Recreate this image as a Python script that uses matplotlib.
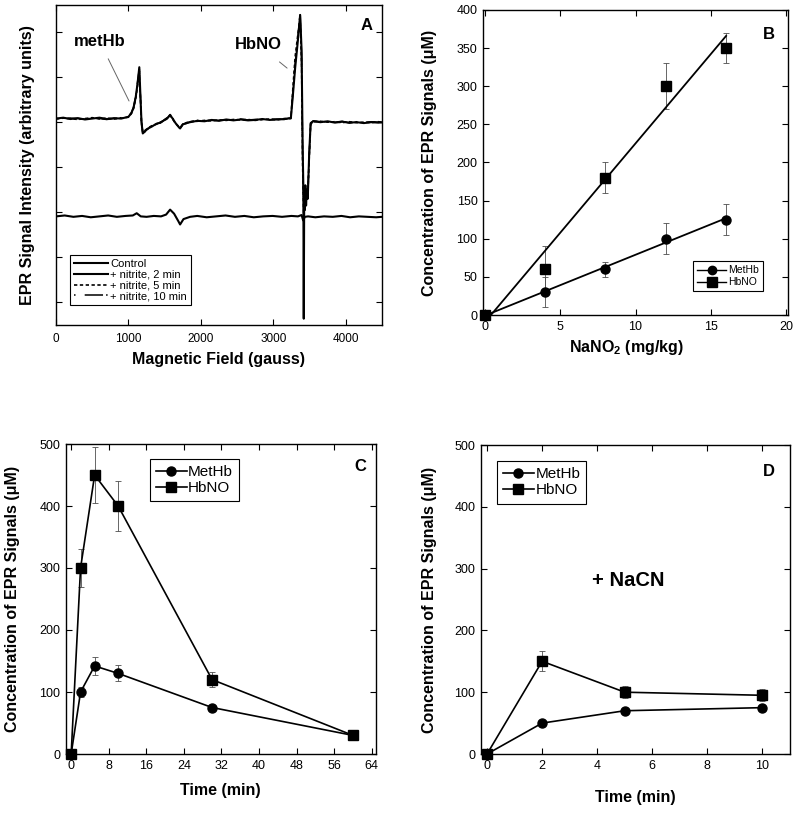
import numpy as np
import matplotlib
matplotlib.use("Agg")
import matplotlib.pyplot as plt
from matplotlib.lines import Line2D

plt.rcParams['font.family'] = ['Liberation Sans', 'DejaVu Sans']
plt.rcParams['mathtext.fontset'] = 'custom'
plt.rcParams['mathtext.rm'] = 'Liberation Sans:bold'
plt.rcParams['mathtext.bf'] = 'Liberation Sans:bold'

# ---- panel A: EPR spectra (field in gauss, intensity arbitrary) ----
field = [0, 100, 200, 300, 400, 500, 600, 700, 800, 900,
         1000, 1040, 1070, 1100, 1125, 1150, 1165, 1180, 1198, 1230,
         1270, 1320, 1380, 1440, 1500, 1545, 1575, 1610, 1650, 1690,
         1713, 1750, 1800, 1851, 1950, 2050, 2150, 2250, 2350, 2450,
         2550, 2650, 2750, 2850, 2950, 3050, 3150, 3242, 3270, 3301,
         3335, 3370, 3390, 3405, 3414, 3420, 3426, 3434, 3442, 3452,
         3462, 3475, 3495, 3515, 3550, 3650, 3750, 3850, 3950, 4050,
         4150, 4250, 4350, 4450, 4500]

nitrite_2min = [4.08, 4.10, 4.07, 4.09, 4.06, 4.08, 4.10, 4.07, 4.09, 4.08,
                4.12, 4.20, 4.32, 4.55, 4.85, 5.22, 4.60, 4.00, 3.75, 3.80,
                3.86, 3.90, 3.96, 3.99, 4.05, 4.10, 4.16, 4.08, 3.98, 3.90,
                3.86, 3.95, 3.98, 4.00, 4.03, 4.02, 4.05, 4.03, 4.06, 4.04,
                4.06, 4.04, 4.05, 4.07, 4.05, 4.06, 4.07, 4.09, 4.60, 5.20,
                5.75, 6.38, 5.60, 3.40, 2.60, -0.36, 2.30, 2.05, 2.60, 2.15,
                2.50, 2.30, 3.30, 3.98, 4.02, 4.00, 4.02, 3.99, 4.01, 3.99,
                4.00, 3.98, 4.00, 3.99, 4.00]

nitrite_5min = [4.07, 4.09, 4.08, 4.06, 4.08, 4.10, 4.07, 4.09, 4.07, 4.09,
                4.11, 4.19, 4.30, 4.52, 4.80, 5.15, 4.55, 3.98, 3.77, 3.82,
                3.87, 3.92, 3.95, 4.00, 4.04, 4.09, 4.15, 4.07, 3.97, 3.91,
                3.88, 3.94, 3.99, 4.01, 4.02, 4.04, 4.03, 4.05, 4.04, 4.06,
                4.05, 4.06, 4.04, 4.06, 4.07, 4.05, 4.08, 4.08, 4.75, 5.45,
                5.90, 6.28, 5.30, 3.00, 2.25, 1.95, 2.05, 2.20, 2.40, 2.25,
                2.45, 2.35, 3.20, 3.95, 4.01, 4.02, 4.00, 4.01, 3.99, 4.01,
                3.99, 4.00, 3.99, 4.01, 4.00]

nitrite_10min = [4.09, 4.07, 4.09, 4.08, 4.07, 4.09, 4.08, 4.06, 4.08, 4.10,
                 4.13, 4.21, 4.33, 4.57, 4.88, 5.18, 4.58, 4.02, 3.76, 3.79,
                 3.85, 3.91, 3.97, 3.98, 4.06, 4.11, 4.17, 4.09, 3.99, 3.89,
                 3.87, 3.96, 3.97, 4.01, 4.04, 4.03, 4.04, 4.04, 4.05, 4.05,
                 4.07, 4.05, 4.06, 4.06, 4.06, 4.07, 4.06, 4.10, 4.65, 5.30,
                 5.80, 6.45, 5.45, 3.20, 2.40, 2.10, 2.20, 2.10, 2.50, 2.20,
                 2.55, 2.40, 3.25, 3.97, 4.03, 4.01, 4.01, 4.00, 4.02, 3.98,
                 4.01, 3.99, 4.01, 4.00, 3.99]

control_field = [0, 120, 240, 360, 480, 600, 720, 840, 960,
                 1060, 1114, 1170, 1250, 1350, 1450, 1520, 1575, 1630, 1690, 1713, 1760, 1851,
                 1950, 2080, 2210, 2340, 2470, 2600, 2730, 2860, 2990, 3120, 3250,
                 3340, 3390, 3412, 3435, 3480,
                 3580, 3700, 3820, 3940, 4060, 4180, 4300, 4420, 4500]
control = [1.91, 1.93, 1.90, 1.92, 1.89, 1.91, 1.93, 1.90, 1.92,
           1.93, 1.98, 1.91, 1.90, 1.92, 1.91, 1.95, 2.06, 1.97, 1.80, 1.73, 1.85, 1.90,
           1.92, 1.89, 1.91, 1.93, 1.90, 1.92, 1.89, 1.91, 1.92, 1.90, 1.92,
           1.91, 1.94, 1.82, 1.90, 1.91,
           1.89, 1.91, 1.90, 1.92, 1.89, 1.91, 1.90, 1.89, 1.90]

# ---- panel B: dose response ----
dose = [0, 4, 8, 12, 16]
dose_methb = [0, 30, 60, 100, 125]
dose_methb_err = [0, 20, 10, 20, 20]
dose_hbno = [0, 60, 180, 300, 350]
dose_hbno_err = [0, 30, 20, 30, 20]

# ---- panel C: time course ----
time_c = [0, 2, 5, 10, 30, 60]
time_c_methb = [0, 100, 142, 130, 75, 30]
time_c_methb_err = [0, 8, 15, 13, 4, 3]
time_c_hbno = [0, 300, 450, 400, 120, 30]
time_c_hbno_err = [0, 30, 45, 40, 12, 3]

# ---- panel D: time course + NaCN ----
time_d = [0, 2, 5, 10]
time_d_methb = [0, 50, 70, 75]
time_d_methb_err = [0, 3, 3, 3]
time_d_hbno = [0, 150, 100, 95]
time_d_hbno_err = [0, 16, 10, 10]


fig = plt.figure(figsize=(8, 8.13), dpi=100)
W, H = 800.0, 813.0


def px_axes(left, right, top, bottom):
    return fig.add_axes([left / W, 1 - bottom / H, (right - left) / W, (bottom - top) / H])


def style(ax, size):
    ax.tick_params(direction='in', top=True, right=True, length=4, width=0.8,
                   labelsize=size, pad=4)
    for s in ax.spines.values():
        s.set_linewidth(1.0)


lab = dict(fontsize=11.5, fontweight='bold')
cm = dict(marker='o', ms=6.5, color='k', mfc='k', mec='k')
sq = dict(marker='s', ms=7.5, color='k', mfc='k', mec='k')
eb = dict(fmt='none', ecolor='0.3', elinewidth=0.6, capsize=2.5, capthick=0.6, zorder=2)

# ---------------- A ----------------
axA = px_axes(56, 382, 5, 325)
axA.plot(control_field, control, color='k', lw=1.5, label='Control')
axA.plot(field, nitrite_2min, color='k', lw=1.5, label='+ nitrite, 2 min')
axA.plot(field, nitrite_5min, color='k', lw=1.2, dashes=(2, 1.5), label='+ nitrite, 5 min')
axA.plot(field, nitrite_10min, color='k', lw=1.1, dashes=(1, 6, 12, 2), label='+ nitrite, 10 min')
axA.set_xlim(0, 4500)
axA.set_ylim(-0.5, 6.6)
axA.set_xticks([0, 1000, 2000, 3000, 4000])
axA.set_yticks(range(7))
axA.set_yticklabels([])
style(axA, 8.5)
axA.tick_params(axis='x', pad=6)
axA.set_xlabel('Magnetic Field (gauss)', **lab)
axA.xaxis.set_label_coords(0.5, -0.085)
axA.set_ylabel('EPR Signal Intensity (arbitrary units)', **lab)
axA.yaxis.set_label_coords(-0.064, 0.5)
axA.annotate('metHb', xy=(1008, 4.47), xytext=(600, 5.8), fontsize=12, fontweight='bold',
             ha='center', va='center',
             arrowprops=dict(arrowstyle='-', color='0.4', lw=0.7, shrinkA=6, shrinkB=0))
axA.annotate('HbNO', xy=(3190, 5.2), xytext=(2790, 5.72), fontsize=12, fontweight='bold',
             ha='center', va='center',
             arrowprops=dict(arrowstyle='-', color='0.4', lw=0.7, shrinkA=8, shrinkB=0))
axA.text(0.954, 0.9375, 'A', transform=axA.transAxes, fontsize=12, fontweight='bold',
         ha='center', va='center')
legA = axA.legend(loc='upper left', bbox_to_anchor=(0.043, 0.219), borderaxespad=0,
                  fontsize=8, handlelength=3.0, handletextpad=0.2, labelspacing=0.05,
                  fancybox=False, edgecolor='k', framealpha=1, borderpad=0.4)
legA.get_frame().set_linewidth(0.8)

# ---------------- B ----------------
axB = px_axes(483, 788, 10, 315)
xs = np.array([0, 16])
for yv in (dose_methb, dose_hbno):
    k, b = np.polyfit(dose, yv, 1)
    axB.plot(xs, k * xs + b, color='k', lw=1.3, zorder=3)
axB.errorbar(dose, dose_methb, yerr=dose_methb_err, **eb)
axB.errorbar(dose, dose_hbno, yerr=dose_hbno_err, **eb)
axB.plot(dose, dose_methb, ls='none', clip_on=False, zorder=4, **cm)
axB.plot(dose, dose_hbno, ls='none', clip_on=False, zorder=4, **sq)
axB.set_xlim(-0.1, 20.1)
axB.set_ylim(0, 400)
axB.set_xticks([0, 5, 10, 15, 20])
axB.set_yticks(range(0, 401, 50))
style(axB, 9)
axB.set_xlabel('NaNO$_\\mathbf{2}$ (mg/kg)', **lab)
axB.xaxis.set_label_coords(0.47, -0.075)
axB.set_ylabel('Concentration of EPR Signals (\u03bcM)', **lab)
axB.yaxis.set_label_coords(-0.151, 0.5)
axB.text(0.938, 0.921, 'B', transform=axB.transAxes, fontsize=12, fontweight='bold',
         ha='center', va='center')
hB = [Line2D([], [], lw=1.0, ms=6, **{k: v for k, v in cm.items() if k != 'ms'}),
      Line2D([], [], lw=1.0, ms=6.5, **{k: v for k, v in sq.items() if k != 'ms'})]
legB = axB.legend(hB, ['MetHb', 'HbNO'], loc='upper left', bbox_to_anchor=(0.689, 0.177),
                  borderaxespad=0, fontsize=7.5, handlelength=2.8, handletextpad=0.15,
                  labelspacing=0.2, fancybox=False, edgecolor='k', framealpha=1)
legB.get_frame().set_linewidth(0.8)

# ---------------- C ----------------
axC = px_axes(66, 376, 444, 754)
axC.errorbar(time_c, time_c_methb, yerr=time_c_methb_err, **eb)
axC.errorbar(time_c, time_c_hbno, yerr=time_c_hbno_err, **eb)
axC.plot(time_c, time_c_methb, lw=1.2, clip_on=False, zorder=3, label='MetHb', **cm)
axC.plot(time_c, time_c_hbno, lw=1.2, clip_on=False, zorder=4, label='HbNO', **sq)
axC.set_xlim(-1.1, 64.9)
axC.set_ylim(0, 500)
axC.set_xticks(range(0, 65, 8))
axC.set_yticks(range(0, 501, 100))
style(axC, 9)
axC.set_xlabel('Time (min)', **lab)
axC.xaxis.set_label_coords(0.497, -0.095)
axC.set_ylabel('Concentration of EPR Signals (\u03bcM)', **lab)
axC.yaxis.set_label_coords(-0.148, 0.5)
axC.text(0.948, 0.926, 'C', transform=axC.transAxes, fontsize=12, fontweight='bold',
         ha='center', va='center')
legC = axC.legend(loc='upper left', bbox_to_anchor=(0.271, 0.952), borderaxespad=0,
                  fontsize=11, handlelength=2.0, handletextpad=0.1, labelspacing=0.15,
                  fancybox=False, edgecolor='k', framealpha=1, borderpad=0.4)
legC.get_frame().set_linewidth(0.8)

# ---------------- D ----------------
axD = px_axes(481, 790, 445, 754)
axD.errorbar(time_d, time_d_methb, yerr=time_d_methb_err, **eb)
axD.errorbar(time_d, time_d_hbno, yerr=time_d_hbno_err, **eb)
axD.plot(time_d, time_d_methb, lw=1.2, clip_on=False, zorder=3, label='MetHb', **cm)
axD.plot(time_d, time_d_hbno, lw=1.2, clip_on=False, zorder=4, label='HbNO', **sq)
axD.set_xlim(-0.22, 11.0)
axD.set_ylim(0, 500)
axD.set_xticks(range(0, 11, 2))
axD.set_yticks(range(0, 501, 100))
style(axD, 9)
axD.set_xlabel('Time (min)', **lab)
axD.xaxis.set_label_coords(0.5, -0.115)
axD.set_ylabel('Concentration of EPR Signals (\u03bcM)', **lab)
axD.yaxis.set_label_coords(-0.142, 0.5)
axD.text(0.932, 0.913, 'D', transform=axD.transAxes, fontsize=12, fontweight='bold',
         ha='center', va='center')
axD.text(5.14, 281, '+ NaCN', fontsize=14.5, fontweight='bold', ha='center', va='center')
legD = axD.legend(loc='upper left', bbox_to_anchor=(0.052, 0.948), borderaxespad=0,
                  fontsize=11, handlelength=2.0, handletextpad=0.1, labelspacing=0.15,
                  fancybox=False, edgecolor='k', framealpha=1, borderpad=0.4)
legD.get_frame().set_linewidth(0.8)

fig.savefig('out.png', dpi=100)
